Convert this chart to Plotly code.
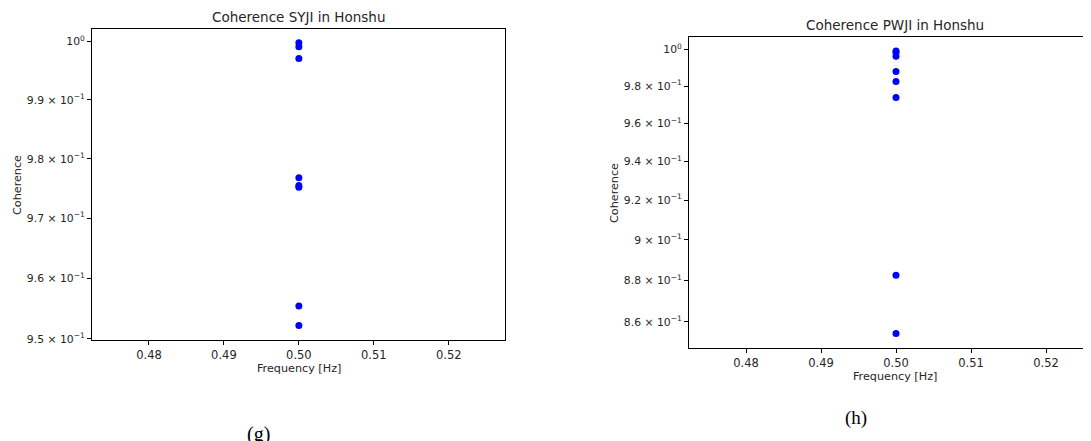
import plotly.graph_objects as go

# ---- data ----
freq_syji = [0.5, 0.5, 0.5, 0.5, 0.5, 0.5, 0.5, 0.5]
coh_syji = [0.9998, 0.9991, 0.9971, 0.9768, 0.9755, 0.9752, 0.9554, 0.9522]

freq_pwji = [0.5, 0.5, 0.5, 0.5, 0.5, 0.5, 0.5, 0.5]
coh_pwji = [0.9993, 0.9985, 0.9964, 0.9880, 0.9826, 0.9739, 0.8825, 0.8545]

xtick_vals = [0.48, 0.49, 0.50, 0.51, 0.52]
xtick_text = ["0.48", "0.49", "0.50", "0.51", "0.52"]

ytick_vals_syji = [1.0, 0.99, 0.98, 0.97, 0.96, 0.95]
ytick_text_syji = ["10<sup>0</sup>", "9.9 × 10<sup>−1</sup>", "9.8 × 10<sup>−1</sup>",
                   "9.7 × 10<sup>−1</sup>", "9.6 × 10<sup>−1</sup>", "9.5 × 10<sup>−1</sup>"]

ytick_vals_pwji = [1.0, 0.98, 0.96, 0.94, 0.92, 0.90, 0.88, 0.86]
ytick_text_pwji = ["10<sup>0</sup>", "9.8 × 10<sup>−1</sup>", "9.6 × 10<sup>−1</sup>",
                   "9.4 × 10<sup>−1</sup>", "9.2 × 10<sup>−1</sup>", "9 × 10<sup>−1</sup>",
                   "8.8 × 10<sup>−1</sup>", "8.6 × 10<sup>−1</sup>"]

titles = ["Coherence SYJI in Honshu", "Coherence PWJI in Honshu"]
captions = ["(g)", "(h)"]

# the page body has an 8px margin; size the figure to fill the rest of the window
OFF = 8
W, H = 1091 - OFF, 441 - OFF
FONT = "DejaVu Sans"
TXT = "#262626"

def px(x):
    return (x - OFF) / W

def py(y):
    return 1 - (y - OFF) / H

fig = go.Figure()
fig.add_trace(go.Scatter(x=freq_syji, y=coh_syji, mode="markers",
                         marker=dict(color="#0000ff", size=7), xaxis="x", yaxis="y",
                         showlegend=False))
fig.add_trace(go.Scatter(x=freq_pwji, y=coh_pwji, mode="markers",
                         marker=dict(color="#0000ff", size=7), xaxis="x2", yaxis="y2",
                         showlegend=False))

axis_common = dict(showline=True, linecolor="black", linewidth=1, mirror=True,
                   ticks="outside", ticklen=4, tickwidth=1, tickcolor="black",
                   showgrid=False, zeroline=False, automargin=False)
xfont = dict(family=FONT, size=11.5, color=TXT)
yfont = dict(family=FONT, size=10.8, color=TXT)

fig.update_layout(
    template="none",
    width=W, height=H,
    margin=dict(l=0, r=0, t=0, b=0, pad=0),
    paper_bgcolor="white", plot_bgcolor="white",
    xaxis=dict(domain=[px(92), px(505)], range=[0.4724, 0.5275], anchor="y",
               tickvals=xtick_vals, ticktext=xtick_text, tickfont=xfont, **axis_common),
    yaxis=dict(domain=[py(340.3), py(29.3)], type="log",
               range=[-0.022376, 0.000924], anchor="x",
               tickvals=ytick_vals_syji, ticktext=ytick_text_syji, tickfont=yfont, **axis_common),
    xaxis2=dict(domain=[px(689), 1.0], range=[0.4724, 0.5260], anchor="y2",
                tickvals=xtick_vals, ticktext=xtick_text, tickfont=xfont, **axis_common),
    yaxis2=dict(domain=[py(348.3), py(36.7)], type="log",
                range=[-0.071835, 0.00313], anchor="x2",
                tickvals=ytick_vals_pwji, ticktext=ytick_text_pwji, tickfont=yfont, **axis_common),
)

def note(text, x, y, size, family=FONT, angle=0, color=TXT):
    return dict(text=text, x=px(x), y=py(y), xref="paper", yref="paper",
                xanchor="center", yanchor="middle", showarrow=False,
                textangle=angle, font=dict(family=family, size=size, color=color))

ann = [
    note(titles[0], 298.5, 17, 13.5),
    note(titles[1], 895.5, 25, 13.5),
    note("Frequency [Hz]", 298.5, 368, 11.2),
    note("Frequency [Hz]", 895.5, 376.5, 11.2),
    note("Coherence", 17, 185, 11.2, angle=-90),
    note("Coherence", 614, 193, 11.2, angle=-90),
    note(captions[0], 258, 434, 20, family="Liberation Serif", color="black"),
    note(captions[1], 856, 418, 19, family="Liberation Serif", color="black"),
]
fig.update_layout(annotations=ann)

fig.write_html("out.html")
